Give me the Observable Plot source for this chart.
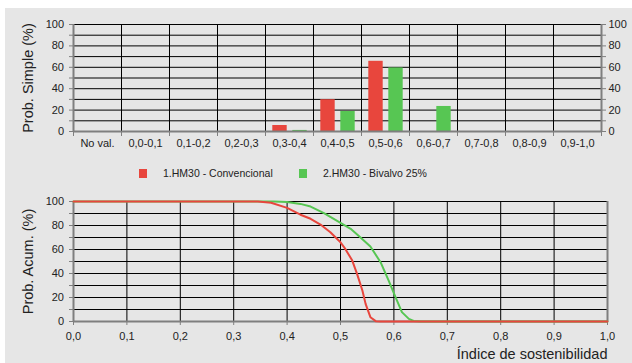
<!DOCTYPE html>
<html><head><meta charset="utf-8">
<script src="https://cdn.jsdelivr.net/npm/d3@7"></script>
<script src="https://cdn.jsdelivr.net/npm/@observablehq/plot@0.6"></script>
<style>
html,body{margin:0;padding:0;background:#fff;width:632px;height:363px;overflow:hidden;font-family:"Liberation Sans",Arial,sans-serif;}
#bg{position:absolute;left:5px;top:8px;width:627px;height:355px;background:#e6e6e6;}
#top{position:absolute;left:0;top:0;}
#bottom{position:absolute;left:0;top:185px;}
#legend{position:absolute;top:166px;left:0;width:632px;height:14px;font-size:10.5px;color:#222;}
.sw{position:absolute;top:3px;width:8px;height:9px;}
.lt{position:absolute;top:0;line-height:14px;white-space:nowrap;}
</style>
</head><body>
<div id="bg"></div>
<div id="top"></div>
<div id="legend"></div>
<div id="bottom"></div>
<script>
// ---- data ----
const categories = ["No val.","0,0-0,1","0,1-0,2","0,2-0,3","0,3-0,4","0,4-0,5","0,5-0,6","0,6-0,7","0,7-0,8","0,8-0,9","0,9-1,0"];
const simpleConv = [0,0,0,0,5.6,29.7,65.6,0,0,0,0];
const simpleBiv  = [0,0,0,0,1,18.7,59.4,23.4,0,0,0];
const seriesNames = ["1.HM30 - Convencional","2.HM30 - Bivalvo 25%"];
const seriesColors = ["#e8463d","#57c653"];

const acumConvX = [0,0.345,0.37,0.4,0.425,0.444,0.4625,0.481,0.5,0.509,0.522,0.531,0.541,0.547,0.556,0.566,0.575,1.0];
const acumConvY = [100,100,99,94.7,89,85.6,80.8,74.4,66,60.5,50.8,39.7,25.8,14.7,3.6,0.3,0,0];
const acumBivX = [0,0.375,0.4,0.425,0.444,0.469,0.5,0.519,0.537,0.556,0.575,0.59,0.603,0.615,0.628,0.637,0.65,1.0];
const acumBivY = [100,100,99.5,98,95.8,90.3,82.2,77.2,70.3,62.5,49.4,34.2,20.3,7.8,2.2,0.5,0,0];

const titleTopY = "Prob. Simple (%)";
const titleBotY = "Prob. Acum. (%)";
const titleBotX = "Índice de sostenibilidad";

const yTicks = d3.range(0,101,10);
const xTicksB = d3.range(0,11).map(i=>i/10);
const fmtComma = d => d3.format(".1f")(d).replace(".",",");

const font = "'Liberation Sans', Arial, sans-serif";
const axisGray = "#7f7f7f";
const textCol = "#222";
const gridCol = "#000";

// ---- top chart ----
const idx = d3.range(categories.length);
const topPlot = Plot.plot({
  width: 632, height: 155,
  marginLeft: 73, marginRight: 31, marginTop: 24, marginBottom: 24,
  style: {background: "transparent", fontFamily: font, fontSize: "11px", color: textCol},
  x: {domain: [0, categories.length]},
  y: {domain: [0, 100]},
  marks: [
    Plot.ruleY(yTicks.slice(1), {stroke: gridCol, strokeWidth: 1}),
    Plot.ruleX(d3.range(1, categories.length), {stroke: gridCol, strokeWidth: 1}),
    Plot.rectY(idx, {x1: i => i, x2: i => i + 1, y: i => simpleConv[i], fill: seriesColors[0], insetLeft: 7.3, insetRight: 26.3}),
    Plot.rectY(idx, {x1: i => i, x2: i => i + 1, y: i => simpleBiv[i], fill: seriesColors[1], insetLeft: 27.3, insetRight: 6.3}),
    Plot.axisY({anchor: "left", ticks: yTicks, tickFormat: d => d % 20 === 0 ? d : "", tickSize: 4, tickPadding: 5.5, stroke: axisGray, fill: textCol, label: null}),
    Plot.axisY({anchor: "right", ticks: yTicks, tickFormat: d => d % 20 === 0 ? d : "", tickSize: 4, tickPadding: 3, stroke: axisGray, fill: textCol, label: null}),
    Plot.axisX({anchor: "bottom", ticks: d3.range(0, categories.length + 1), tickFormat: () => "", tickSize: 5, stroke: axisGray, label: null}),
    Plot.axisX({anchor: "bottom", ticks: idx.map(i => i + 0.5), tickFormat: d => categories[Math.floor(d)], tickSize: 0, tickPadding: 7.5, fill: textCol, label: null}),
    Plot.ruleY([0], {stroke: axisGray, strokeWidth: 2}),
    Plot.ruleX([0, categories.length], {stroke: axisGray, strokeWidth: 2}),
    Plot.text([titleTopY], {text: d => d, frameAnchor: "left", rotate: -90, dx: -45, textAnchor: "middle", lineAnchor: "middle", fontSize: 14.5, fill: textCol})
  ]
});
document.getElementById("top").appendChild(topPlot);

// ---- legend ----
const leg = document.getElementById("legend");
const legPos = [[139,163],[299,323]];
seriesNames.forEach((n, k) => {
  const s = document.createElement("div"); s.className = "sw"; s.style.left = legPos[k][0] + "px"; s.style.background = seriesColors[k]; leg.appendChild(s);
  const t = document.createElement("div"); t.className = "lt"; t.style.left = legPos[k][1] + "px"; t.textContent = n; leg.appendChild(t);
});

// ---- bottom chart ----
const conv = acumConvX.map((x, i) => ({x, y: acumConvY[i]}));
const biv = acumBivX.map((x, i) => ({x, y: acumBivY[i]}));
const botPlot = Plot.plot({
  width: 632, height: 178,
  marginLeft: 73, marginRight: 25, marginTop: 16, marginBottom: 42,
  style: {background: "transparent", fontFamily: font, fontSize: "11px", color: textCol},
  x: {domain: [0, 1]},
  y: {domain: [0, 100]},
  marks: [
    Plot.ruleY(yTicks.slice(1), {stroke: gridCol, strokeWidth: 1}),
    Plot.ruleX(xTicksB.slice(1, 10), {stroke: gridCol, strokeWidth: 1}),
    Plot.axisY({anchor: "left", ticks: yTicks, tickFormat: d => d % 20 === 0 ? d : "", tickSize: 4, tickPadding: 5.5, stroke: axisGray, fill: textCol, label: null}),
    Plot.axisX({anchor: "bottom", ticks: xTicksB, tickFormat: fmtComma, tickSize: 4, tickPadding: 7, stroke: axisGray, fill: textCol, label: null}),
    Plot.ruleY([0], {stroke: axisGray, strokeWidth: 2}),
    Plot.ruleX([0, 1], {stroke: axisGray, strokeWidth: 2}),
    Plot.line(biv, {x: "x", y: "y", stroke: seriesColors[1], strokeWidth: 2}),
    Plot.line(conv, {x: "x", y: "y", stroke: seriesColors[0], strokeWidth: 2}),
    Plot.text([titleBotY], {text: d => d, frameAnchor: "left", rotate: -90, dx: -45, textAnchor: "middle", lineAnchor: "middle", fontSize: 14.5, fill: textCol}),
    Plot.text([titleBotX], {text: d => d, frameAnchor: "bottom-right", dy: 37, textAnchor: "end", lineAnchor: "bottom", fontSize: 14.5, fill: textCol})
  ]
});
document.getElementById("bottom").appendChild(botPlot);
</script>
</body></html>
